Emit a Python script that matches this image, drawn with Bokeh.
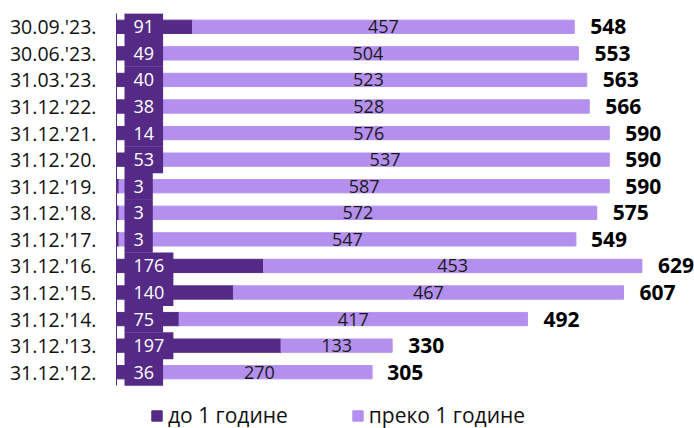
from bokeh.plotting import figure
from bokeh.models import ColumnDataSource, Range1d, LabelSet, Legend, LegendItem, FixedTicker
from bokeh.core.properties import value
from bokeh.embed import file_html
from bokeh.resources import INLINE

# Data (bottom to top)
dates = ["31.12.'12.", "31.12.'13.", "31.12.'14.", "31.12.'15.", "31.12.'16.", "31.12.'17.",
         "31.12.'18.", "31.12.'19.", "31.12.'20.", "31.12.'21.", "31.12.'22.", "31.03.'23.",
         "30.06.'23.", "30.09.'23."]
short_term = [36, 197, 75, 140, 176, 3, 3, 3, 53, 14, 38, 40, 49, 91]
long_term = [270, 133, 417, 467, 453, 547, 572, 587, 537, 576, 528, 523, 504, 457]
totals = [305, 330, 492, 607, 629, 549, 575, 590, 590, 590, 566, 563, 553, 548]
series_names = ["до 1 године", "преко 1 године"]

DARK = "#552A87"
LIGHT = "#B490EE"
FONT = "Open Sans"

n = len(dates)
pos = list(range(n))
src = ColumnDataSource(dict(
    y=pos,
    short=short_term,
    long_end=[s + l for s, l in zip(short_term, long_term)],
    long_mid=[s + l / 2 for s, l in zip(short_term, long_term)],
    total=totals,
    zero=[0] * n,
    short_txt=[str(v) for v in short_term],
    long_txt=[str(v) for v in long_term],
    total_txt=[str(v) for v in totals],
))

p = figure(width=694, height=428, output_backend="svg", toolbar_location=None,
           y_range=Range1d(-2.118, n - 0.5),
           x_range=Range1d(0, 692), x_axis_location=None,
           min_border_left=116, min_border_right=0, min_border_top=13, min_border_bottom=0)
p.outline_line_color = None
p.xgrid.visible = False
p.ygrid.visible = False

r1 = p.hbar(y="y", left="zero", right="short", height=0.5, color=DARK, source=src)
r2 = p.hbar(y="y", left="short", right="long_end", height=0.5, color=LIGHT, source=src)

ax = p.yaxis[0]
ax.ticker = FixedTicker(ticks=pos)
ax.major_label_overrides = {i: d for i, d in zip(pos, dates)}
ax.bounds = (-0.5, n - 0.5)
ax.major_tick_out = 0
ax.major_tick_in = 0
ax.minor_tick_out = 0
ax.minor_tick_in = 0
ax.axis_line_color = DARK
ax.major_label_standoff = 20
ax.major_label_text_font = FONT
ax.major_label_text_font_size = "19.5px"
ax.major_label_text_color = "#111111"

inner = LabelSet(x="long_mid", y="y", text="long_txt", source=src, text_align="center",
                 text_baseline="middle", text_font=value(FONT), text_font_size="18px",
                 text_color="#1a1a1a")
p.add_layout(inner)

tot = LabelSet(x="total", y="y", text="total_txt", source=src, x_offset=16, text_align="left",
               text_baseline="middle", text_font=value(FONT), text_font_size="21px",
               text_font_style="bold", text_color="#000000")
p.add_layout(tot)

p.text(x="zero", y="y", text="short_txt", source=src, x_offset=8, text_align="left",
       text_baseline="middle", text_font=value(FONT), text_font_size="18px",
       text_color="white", background_fill_color=DARK,
       padding=dict(left=9, right=9, top=7, bottom=7))

legend = Legend(items=[LegendItem(label=series_names[0], renderers=[r1]),
                       LegendItem(label=series_names[1], renderers=[r2])],
                orientation="horizontal", location=(34, -1), padding=0, margin=0,
                spacing=63, label_standoff=5, glyph_width=13, glyph_height=13,
                border_line_color=None, background_fill_alpha=0,
                label_text_font=FONT, label_text_font_size="21px", label_text_color="#111111")
p.add_layout(legend, "center")

open("out.html", "w").write(file_html(p, INLINE))
